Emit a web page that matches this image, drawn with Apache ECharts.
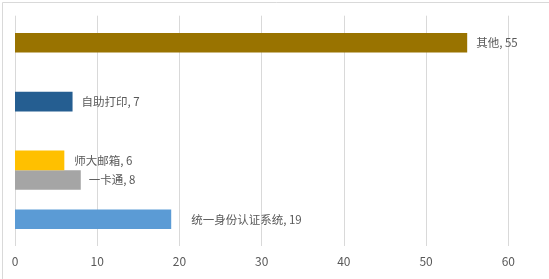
<!DOCTYPE html>
<html>
<head>
<meta charset="utf-8">
<script src="https://cdn.jsdelivr.net/npm/echarts@6/dist/echarts.min.js"></script>
<style>
html,body{margin:0;padding:0;background:#fff;}
#chart{width:549px;height:279px;}
</style>
</head>
<body>
<div id="chart"></div>
<script>
// ---- data ----
const categories = ['统一身份认证系统', '一卡通', '师大邮箱', '自助打印', '其他'];
const values = [19, 8, 6, 7, 55];
const xTicks = [0, 10, 20, 30, 40, 50, 60];

// ---- layout / style ----
const rowSlots = [0, 2, 3, 6, 9];      // vertical slot of each bar (bottom = 0)
const slotCount = 10;
const colors = ['#5B9BD5', '#A5A5A5', '#FFC000', '#255E91', '#997300'];
const labelGaps = [20, 8, 10, 9, 9];
const FONT = '"Noto Sans CJK SC", "Microsoft YaHei", sans-serif';

const slotNames = Array.from({length: slotCount}, (_, i) => 's' + i);
const barData = categories.map((c, i) => ({
  name: c,
  value: [values[i], rowSlots[i]],
  itemStyle: {color: colors[i]},
  label: {distance: labelGaps[i]}
}));

const chart = echarts.init(document.getElementById('chart'), null, {renderer: 'canvas'});
chart.setOption({
  animation: false,
  backgroundColor: '#fff',
  graphic: [{
    type: 'rect', left: 0, top: 0, z: 100, silent: true,
    shape: {x: 0.5, y: 0.5, width: 548, height: 278},
    style: {fill: 'none', stroke: '#d9d9d9', lineWidth: 1}
  }],
  grid: [
    {left: 15, right: 40.7, top: 15.7, bottom: 33, containLabel: false},
    {left: 15, right: 40.7, top: 33, bottom: 50, containLabel: false}
  ],
  xAxis: [
    {
      gridIndex: 0, type: 'value', min: xTicks[0], max: xTicks[xTicks.length - 1], interval: xTicks[1] - xTicks[0],
      axisLine: {show: false}, axisTick: {show: false},
      splitLine: {show: true, lineStyle: {color: '#d9d9d9', width: 1}},
      axisLabel: {color: '#595959', fontSize: 12, fontFamily: FONT, margin: 9}
    },
    {
      gridIndex: 1, type: 'value', min: xTicks[0], max: xTicks[xTicks.length - 1], show: false
    }
  ],
  yAxis: [
    {gridIndex: 0, type: 'value', show: false},
    {gridIndex: 1, type: 'category', data: slotNames, show: false}
  ],
  series: [{
    type: 'bar',
    xAxisIndex: 1, yAxisIndex: 1,
    encode: {x: 0, y: 1},
    barCategoryGap: 0,
    data: barData,
    label: {
      show: true, position: 'right',
      color: '#595959', fontSize: 11.5, fontFamily: FONT,
      formatter: p => p.name + ', ' + p.value[0]
    }
  }]
});
</script>
</body>
</html>
